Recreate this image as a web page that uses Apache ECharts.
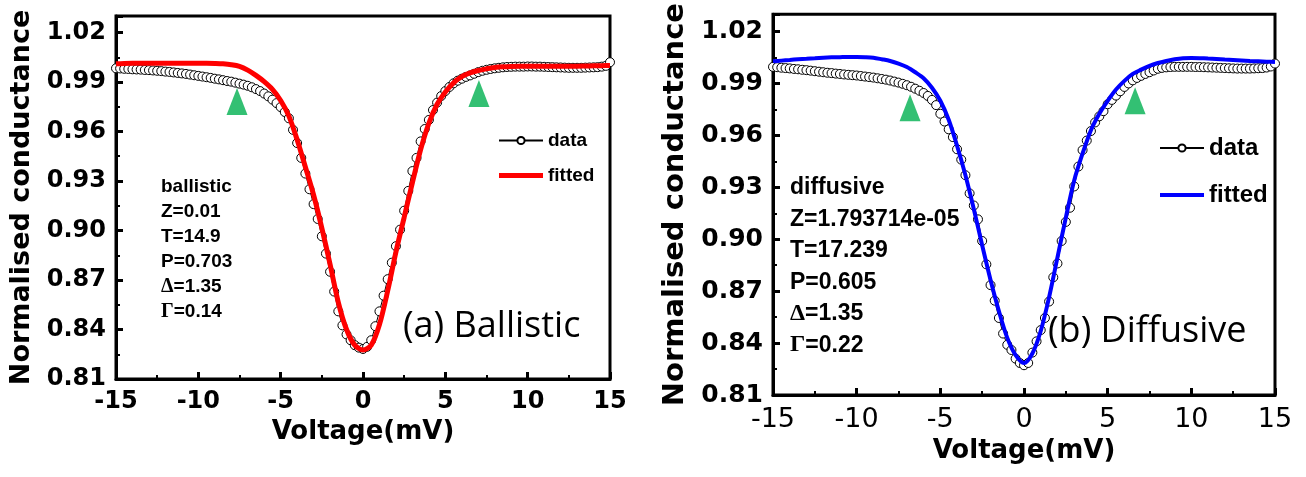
<!DOCTYPE html>
<html>
<head>
<meta charset="utf-8">
<script src="https://cdn.jsdelivr.net/npm/echarts@6.0.0/dist/echarts.min.js"></script>
<style>
  html, body { margin: 0; padding: 0; background: #fff; }
  #wrap { position: relative; width: 1306px; height: 477px; }
  #chartA { position: absolute; left: 0; top: 0; width: 650px; height: 477px; }
  #chartB { position: absolute; left: 650px; top: 0; width: 656px; height: 477px; }
</style>
</head>
<body>
<div id="wrap">
  <div id="chartA"></div>
  <div id="chartB"></div>
</div>
<script>
// 电压采样点（实验数据，步长 0.25 mV）
const dataX = [-15,-14.75,-14.5,-14.25,-14,-13.75,-13.5,-13.25,-13,-12.75,-12.5,-12.25,-12,-11.75,-11.5,-11.25,-11,-10.75,-10.5,-10.25,-10,-9.75,-9.5,-9.25,-9,-8.75,-8.5,-8.25,-8,-7.75,-7.5,-7.25,-7,-6.75,-6.5,-6.25,-6,-5.75,-5.5,-5.25,-5,-4.75,-4.5,-4.25,-4,-3.75,-3.5,-3.25,-3,-2.75,-2.5,-2.25,-2,-1.75,-1.5,-1.25,-1,-0.75,-0.5,-0.25,0,0.25,0.5,0.75,1,1.25,1.5,1.75,2,2.25,2.5,2.75,3,3.25,3.5,3.75,4,4.25,4.5,4.75,5,5.25,5.5,5.75,6,6.25,6.5,6.75,7,7.25,7.5,7.75,8,8.25,8.5,8.75,9,9.25,9.5,9.75,10,10.25,10.5,10.75,11,11.25,11.5,11.75,12,12.25,12.5,12.75,13,13.25,13.5,13.75,14,14.25,14.5,14.75,15];

// 拟合曲线采样点（步长 0.5 mV）
const fitX = [-15,-14.5,-14,-13.5,-13,-12.5,-12,-11.5,-11,-10.5,-10,-9.5,-9,-8.5,-8,-7.5,-7,-6.5,-6,-5.5,-5,-4.5,-4,-3.5,-3,-2.5,-2,-1.5,-1,-0.5,0,0.5,1,1.5,2,2.5,3,3.5,4,4.5,5,5.5,6,6.5,7,7.5,8,8.5,9,9.5,10,10.5,11,11.5,12,12.5,13,13.5,14,14.5,15];

// (a) ballistic
const ballisticData = [0.9983,0.9982,0.9980,0.9979,0.9977,0.9976,0.9975,0.9973,0.9972,0.9970,0.9968,0.9966,0.9963,0.9961,0.9958,0.9955,0.9952,0.9949,0.9945,0.9941,0.9937,0.9933,0.9929,0.9925,0.9920,0.9916,0.9911,0.9906,0.9902,0.9896,0.9890,0.9884,0.9877,0.9868,0.9857,0.9845,0.9830,0.9813,0.9793,0.9772,0.9748,0.9718,0.9680,0.9610,0.9530,0.9440,0.9345,0.9250,0.9160,0.9070,0.8965,0.8860,0.8750,0.8630,0.8510,0.8425,0.8370,0.8335,0.8305,0.8290,0.8282,0.8295,0.8335,0.8420,0.8510,0.8605,0.8705,0.8805,0.8905,0.9005,0.9120,0.9240,0.9360,0.9440,0.9540,0.9615,0.9670,0.9730,0.9775,0.9815,0.9845,0.9870,0.9892,0.9908,0.9920,0.9931,0.9940,0.9950,0.9960,0.9968,0.9974,0.9979,0.9983,0.9986,0.9989,0.9991,0.9992,0.9993,0.9993,0.9993,0.9994,0.9994,0.9993,0.9993,0.9992,0.9991,0.9990,0.9989,0.9988,0.9987,0.9986,0.9986,0.9986,0.9986,0.9987,0.9988,0.9989,0.9990,0.9993,0.9998,1.0020];
const ballisticFit = [1.0010,1.0012,1.0013,1.0013,1.0013,1.0013,1.0013,1.0013,1.0013,1.0013,1.0013,1.0013,1.0012,1.0010,1.0005,0.9995,0.9972,0.9940,0.9902,0.9855,0.9788,0.9693,0.9550,0.9385,0.9215,0.9015,0.8795,0.8565,0.8400,0.8305,0.8276,0.8305,0.8430,0.8635,0.8870,0.9080,0.9290,0.9490,0.9650,0.9765,0.9840,0.9895,0.9932,0.9955,0.9970,0.9980,0.9988,0.9992,0.9994,0.9995,0.9995,0.9995,0.9995,0.9995,0.9995,0.9996,0.9996,0.9997,0.9998,0.9999,1.0000];
const ballisticArrows = [[-7.65, 0.9782], [7.04, 0.9830]];

// (b) diffusive
const diffusiveData = [0.9996,0.9994,0.9991,0.9989,0.9987,0.9984,0.9982,0.9979,0.9977,0.9974,0.9971,0.9968,0.9965,0.9962,0.9960,0.9957,0.9955,0.9952,0.9950,0.9948,0.9946,0.9943,0.9940,0.9937,0.9934,0.9930,0.9926,0.9922,0.9917,0.9911,0.9905,0.9898,0.9890,0.9881,0.9870,0.9858,0.9845,0.9828,0.9805,0.9775,0.9725,0.9680,0.9635,0.9590,0.9520,0.9460,0.9370,0.9265,0.9195,0.9115,0.8990,0.8855,0.8735,0.8645,0.8545,0.8455,0.8390,0.8360,0.8310,0.8285,0.8272,0.8285,0.8345,0.8410,0.8475,0.8545,0.8640,0.8780,0.8860,0.8990,0.9100,0.9182,0.9305,0.9420,0.9515,0.9570,0.9625,0.9675,0.9710,0.9740,0.9780,0.9805,0.9830,0.9855,0.9880,0.9900,0.9918,0.9932,0.9944,0.9955,0.9965,0.9975,0.9985,0.9990,0.9993,0.9995,0.9996,0.9996,0.9996,0.9996,0.9996,0.9995,0.9995,0.9994,0.9993,0.9992,0.9991,0.9990,0.9989,0.9988,0.9987,0.9986,0.9986,0.9986,0.9986,0.9987,0.9988,0.9989,0.9992,0.9998,1.0015];
const diffusiveFit = [1.0028,1.0032,1.0036,1.0040,1.0043,1.0046,1.0049,1.0051,1.0052,1.0053,1.0053,1.0052,1.0049,1.0040,1.0030,1.0015,0.9995,0.9965,0.9930,0.9875,0.9800,0.9690,0.9540,0.9370,0.9175,0.8965,0.8765,0.8585,0.8430,0.8330,0.8285,0.8340,0.8470,0.8665,0.8895,0.9125,0.9340,0.9495,0.9630,0.9725,0.9800,0.9865,0.9915,0.9955,0.9980,1.0002,1.0018,1.0030,1.0040,1.0046,1.0047,1.0046,1.0044,1.0042,1.0039,1.0036,1.0033,1.0030,1.0028,1.0026,1.0024];
const diffusiveArrows = [[-6.81, 0.9760], [6.64, 0.9800]];

const ballisticText = 'ballistic\nZ=0.01\nT=14.9\nP=0.703\n{g|Δ}=1.35\n{g|Γ}=0.14';
const diffusiveText = 'diffusive\nZ=1.793714e-05\nT=17.239\nP=0.605\n{g|Δ}=1.35\n{g|Γ}=0.22';

function zip(xs, ys) {
    return xs.map((x, i) => [x, ys[i]]);
}

function buildOption(p) {
    return {
        animation: false,
        backgroundColor: '#fff',
        grid: { left: p.grid[0], top: p.grid[1], width: p.grid[2], height: p.grid[3],
                show: true, borderColor: '#000', borderWidth: 3, backgroundColor: 'transparent' },
        xAxis: {
            type: 'value', min: -15, max: 15, interval: 5,
            name: 'Voltage(mV)', nameLocation: 'middle', nameGap: p.xNameGap,
            nameTextStyle: { fontFamily: 'DejaVu Sans', fontWeight: 'bold', fontSize: p.xNameSize, color: '#000' },
            axisLine: { show: true, onZero: false, lineStyle: { color: '#000', width: 3 } },
            axisTick: { show: true, inside: true, length: 7, lineStyle: { color: '#000', width: 3 } },
            minorTick: { show: true, splitNumber: 2, length: 4, lineStyle: { color: '#000', width: 2 } },
            splitLine: { show: false },
            axisLabel: { margin: 11, color: '#000', fontFamily: 'DejaVu Sans',
                         fontWeight: p.xLabelWeight, fontSize: p.xLabelSize }
        },
        yAxis: {
            type: 'value', min: 0.81, max: 1.03, interval: 0.03,
            name: 'Normalised conductance', nameLocation: 'middle', nameGap: p.yNameGap,
            nameTextStyle: { fontFamily: 'DejaVu Sans', fontWeight: 'bold', fontSize: p.yNameSize, color: '#000' },
            axisLine: { show: true, onZero: false, lineStyle: { color: '#000', width: 3 } },
            axisTick: { show: true, inside: true, length: 7, lineStyle: { color: '#000', width: 3 } },
            minorTick: { show: true, splitNumber: 2, length: 4, lineStyle: { color: '#000', width: 2 } },
            splitLine: { show: false },
            axisLabel: { margin: 10, color: '#000', fontFamily: 'DejaVu Sans', fontWeight: 'bold',
                         fontSize: p.yLabelSize, showMaxLabel: false,
                         formatter: v => v.toFixed(2) }
        },
        legend: {
            data: [
                { name: 'data' },
                { name: 'fitted', icon: 'path://M0,0 L44,0 L44,' + p.fitWidth + ' L0,' + p.fitWidth + ' Z',
                  itemStyle: { color: p.fitColor } }
            ],
            orient: 'vertical', left: p.legend[0], top: p.legend[1],
            itemWidth: 44, itemHeight: 9, itemGap: p.legend[2],
            textStyle: { fontFamily: 'Liberation Sans', fontWeight: 'bold', fontSize: p.legendSize, color: '#000' }
        },
        graphic: [
            { type: 'text', left: p.note[0], top: p.note[1],
              style: { text: p.noteText, fill: '#000', fontFamily: 'Liberation Sans', fontWeight: 'bold',
                       fontSize: p.noteSize, lineHeight: p.noteLine,
                       rich: { g: { fontFamily: 'Liberation Serif', fontWeight: 'bold',
                                    fontSize: p.noteSize + 1, lineHeight: p.noteLine } } } },
            { type: 'text', x: p.tag[0], y: p.tag[1],
              style: { text: p.tagText, fill: '#000', fontFamily: 'Open Sans', fontSize: 36,
                       verticalAlign: 'middle' } }
        ],
        series: [
            {
                name: 'data', type: 'line', data: zip(dataX, p.data), z: 2,
                symbol: 'circle', symbolSize: 9, showAllSymbol: true,
                itemStyle: { color: '#fff', borderColor: '#000', borderWidth: 1 },
                lineStyle: { color: '#000', width: 1 },
                emphasis: { disabled: true }
            },
            {
                name: 'fitted', type: 'line', data: zip(fitX, p.fit), z: 4,
                symbol: 'none', smooth: 0.3,
                itemStyle: { color: p.fitColor },
                lineStyle: { color: p.fitColor, width: p.fitWidth },
                emphasis: { disabled: true }
            },
            {
                name: 'arrow', type: 'scatter', data: p.arrows, z: 5,
                symbol: 'triangle', symbolSize: [21, 27],
                itemStyle: { color: '#00b050' },
                emphasis: { disabled: true }
            }
        ]
    };
}

const chartA = echarts.init(document.getElementById('chartA'));
const chartB = echarts.init(document.getElementById('chartB'));

chartA.setOption(buildOption({
    grid: [116, 16, 494, 363],
    xNameGap: 38, xNameSize: 26, xLabelWeight: 'bold', xLabelSize: 24,
    yNameGap: 81, yNameSize: 27, yLabelSize: 24,
    legend: [493, 126, 16], legendSize: 19,
    note: [161, 174], noteText: ballisticText, noteSize: 19, noteLine: 25,
    tag: [403, 327], tagText: '(a) Ballistic',
    data: ballisticData, fit: ballisticFit, arrows: ballisticArrows,
    fitColor: '#ff0000', fitWidth: 5
}));

chartB.setOption(buildOption({
    grid: [123, 12, 502, 383],
    xNameGap: 42, xNameSize: 26, xLabelWeight: 'normal', xLabelSize: 27,
    yNameGap: 81, yNameSize: 29, yLabelSize: 25,
    legend: [504, 131, 23], legendSize: 24,
    note: [140, 172], noteText: diffusiveText, noteSize: 23, noteLine: 31.5,
    tag: [398, 332], tagText: '(b) Diffusive',
    data: diffusiveData, fit: diffusiveFit, arrows: diffusiveArrows,
    fitColor: '#0000ff', fitWidth: 4
}));

window.addEventListener('resize', () => {
    chartA.resize();
    chartB.resize();
});
</script>
</body>
</html>
